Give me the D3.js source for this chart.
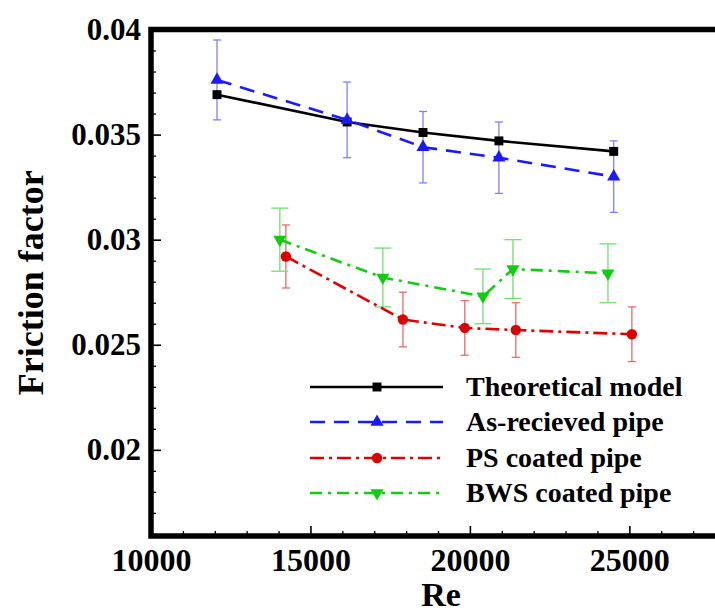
<!DOCTYPE html>
<html>
<head>
<meta charset="utf-8">
<script src="https://cdn.jsdelivr.net/npm/d3@7"></script>
<style>
  body { margin: 0; background: #fff; }
  svg { display: block; font-family: "Liberation Serif", "Times New Roman", serif; font-weight: bold; }
</style>
</head>
<body>
<svg id="chart" width="715" height="615"></svg>
<script>
// data
const reTheory = [12070, 16150, 18530, 20910, 24510];
const fTheory = [0.0369, 0.0356, 0.0351, 0.0347, 0.0342];

const reAsReceived = [12070, 16150, 18530, 20910, 24510];
const fAsReceived = [0.0376, 0.0357, 0.0344, 0.0339, 0.0330];
const errAsReceived = [0.0019, 0.0018, 0.0017, 0.0017, 0.0017];

const rePS = [14230, 17900, 19840, 21440, 25080];
const fPS = [0.0292, 0.0262, 0.0258, 0.0257, 0.0255];
const errPS = [0.0015, 0.0013, 0.0013, 0.0013, 0.0013];

const reBWS = [14040, 17270, 20410, 21350, 24330];
const fBWS = [0.0300, 0.0282, 0.0273, 0.0286, 0.0284];
const errBWS = [0.0015, 0.0014, 0.0013, 0.0014, 0.0014];

const xTicks = [10000, 15000, 20000, 25000];
const yTicks = [0.02, 0.025, 0.03, 0.035, 0.04];
const legendLabels = ['Theoretical model', 'As-recieved pipe', 'PS coated pipe', 'BWS coated pipe'];

const svg = d3.select('#chart');

const x = d3.scaleLinear().domain([10000, 28000]).range([151, 725]);
const y = d3.scaleLinear().domain([0.0159, 0.04]).range([536, 29.5]);

const zip = (a, b, e) => a.map((v, i) => ({ x: v, y: b[i], e: e ? e[i] : 0 }));

const series = [
  { data: zip(reTheory, fTheory), color: '#000000', errColor: null, dash: null, sym: d3.symbolSquare, size: 80, rot: 0, cap: 0 },
  { data: zip(reAsReceived, fAsReceived, errAsReceived), color: '#1a1aff', errColor: '#7f7fff', dash: '15,9', sym: d3.symbolTriangle, size: 75, rot: 0, cap: 8 },
  { data: zip(rePS, fPS, errPS), color: '#dd0000', errColor: '#e86a6a', dash: '14,5,3,5', sym: d3.symbolCircle, size: 85, rot: 0, cap: 8 },
  { data: zip(reBWS, fBWS, errBWS), color: '#11cc11', errColor: '#6ee06e', dash: '12,6,3,6', sym: d3.symbolTriangle, size: 75, rot: 180, cap: 17 }
];

// minor ticks
const xAxis = d3.axisBottom(x).tickValues(d3.range(11000, 28000, 1000).filter(v => v % 5000)).tickSize(-5).tickFormat('');
svg.append('g').attr('transform', 'translate(0,536)').call(xAxis)
  .call(g => g.select('.domain').remove())
  .selectAll('line').attr('stroke', '#000').attr('stroke-width', 1.3);

const yMinor = d3.range(16, 40).map(v => v / 1000).filter(v => Math.round(v * 1000) % 5);
svg.append('g').attr('transform', 'translate(151,0)')
  .call(d3.axisLeft(y).tickValues(yMinor).tickSize(-5).tickFormat(''))
  .call(g => g.select('.domain').remove())
  .selectAll('line').attr('stroke', '#000').attr('stroke-width', 1.3);

// major ticks
svg.append('g').attr('transform', 'translate(0,536)')
  .call(d3.axisBottom(x).tickValues(xTicks).tickSize(-10).tickPadding(12).tickFormat(d3.format('d')))
  .call(g => g.select('.domain').remove())
  .call(g => g.selectAll('line').attr('stroke', '#000').attr('stroke-width', 1.6))
  .call(g => g.selectAll('text').attr('font-size', 32).attr('fill', '#000')
    .attr('font-family', 'Liberation Serif').attr('font-weight', 'bold'));

svg.append('g').attr('transform', 'translate(151,0)')
  .call(d3.axisLeft(y).tickValues(yTicks).tickSize(-10).tickPadding(10).tickFormat(d => d3.format('')(+d.toFixed(3))))
  .call(g => g.select('.domain').remove())
  .call(g => g.selectAll('line').attr('stroke', '#000').attr('stroke-width', 1.6))
  .call(g => g.selectAll('text').attr('font-size', 31).attr('fill', '#000')
    .attr('font-family', 'Liberation Serif').attr('font-weight', 'bold'));

// frame
svg.append('path')
  .attr('d', `M715,${y(0.04)} H${x(10000)} V${y(0.0159)} H715`)
  .attr('fill', 'none').attr('stroke', '#000').attr('stroke-width', 5.5);

// error bars
series.filter(s => s.errColor).forEach(s => {
  const g = svg.append('g').attr('stroke', s.errColor).attr('stroke-width', 1.3).attr('fill', 'none');
  s.data.forEach(d => {
    const cx = x(d.x), y0 = y(d.y - d.e), y1 = y(d.y + d.e);
    g.append('line').attr('x1', cx).attr('x2', cx).attr('y1', y0).attr('y2', y1);
    g.append('line').attr('x1', cx - s.cap / 2).attr('x2', cx + s.cap / 2).attr('y1', y0).attr('y2', y0);
    g.append('line').attr('x1', cx - s.cap / 2).attr('x2', cx + s.cap / 2).attr('y1', y1).attr('y2', y1);
  });
});

// lines and markers
const line = d3.line().x(d => x(d.x)).y(d => y(d.y));
series.forEach(s => {
  svg.append('path').datum(s.data)
    .attr('d', line).attr('fill', 'none').attr('stroke', s.color)
    .attr('stroke-width', 2.6).attr('stroke-dasharray', s.dash);
  svg.append('g').selectAll('path').data(s.data).join('path')
    .attr('d', d3.symbol(s.sym, s.size))
    .attr('transform', d => `translate(${x(d.x)},${y(d.y)}) rotate(${s.rot})`)
    .attr('fill', s.color);
});

// legend
const legendY = [387, 422, 458, 493];
series.forEach((s, i) => {
  const g = svg.append('g').attr('transform', `translate(0,${legendY[i]})`);
  g.append('line').attr('x1', 310).attr('x2', 443).attr('stroke', s.color)
    .attr('stroke-width', 2.4).attr('stroke-dasharray', s.dash);
  g.append('path').attr('d', d3.symbol(s.sym, s.size))
    .attr('transform', `translate(377,0) rotate(${s.rot})`).attr('fill', s.color);
  g.append('text').attr('x', 466).attr('y', 9).attr('font-size', 28).attr('fill', '#000').text(legendLabels[i]);
});

// axis titles
svg.append('text').attr('x', 441).attr('y', 606).attr('text-anchor', 'middle')
  .attr('font-size', 34).text('Re');
svg.append('text').attr('transform', `translate(43,${(y(0.04) + y(0.0159)) / 2}) rotate(-90)`)
  .attr('text-anchor', 'middle').attr('font-size', 36).text('Friction factor');
</script>
</body>
</html>
